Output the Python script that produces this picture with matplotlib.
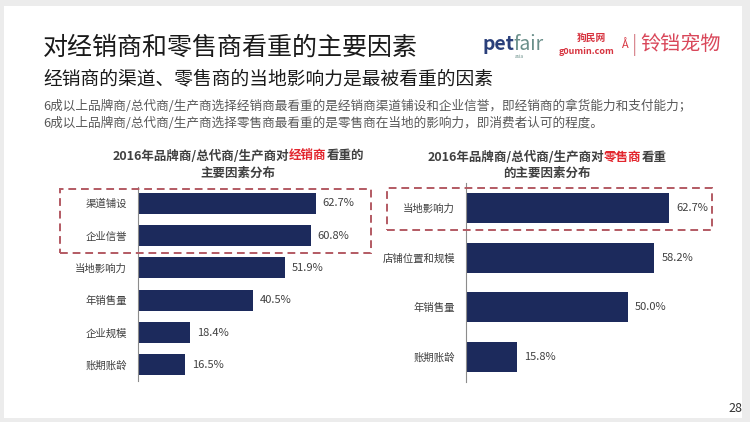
import matplotlib
matplotlib.use('Agg')
import matplotlib.pyplot as plt
from matplotlib.patches import Rectangle

plt.rcParams['font.family'] = ['Noto Sans CJK SC', 'DejaVu Sans']

# data
dist_labels = ['渠道铺设', '企业信誉', '当地影响力', '年销售量', '企业规模', '账期账龄']
dist_values = [62.7, 60.8, 51.9, 40.5, 18.4, 16.5]
retail_labels = ['当地影响力', '店铺位置和规模', '年销售量', '账期账龄']
retail_values = [62.7, 58.2, 50.0, 15.8]

title = '对经销商和零售商看重的主要因素'
subtitle = '经销商的渠道、零售商的当地影响力是最被看重的因素'
notes = ['6成以上品牌商/总代商/生产商选择经销商最看重的是经销商渠道铺设和企业信誉，即经销商的拿货能力和支付能力；',
         '6成以上品牌商/总代商/生产商选择零售商最看重的是零售商在当地的影响力，即消费者认可的程度。']

W, H = 750, 422
NAVY = '#1c2a5c'
RED = '#e2262e'
BOX = '#b35a63'
DARK = '#404040'

fig = plt.figure(figsize=(7.5, 4.22), dpi=100, facecolor='#ececec')
R = fig.canvas.get_renderer()


def px(x, y, w, h):
    # pixel box, origin top-left -> figure fraction rect
    return [x / W, 1 - (y + h) / H, w / W, h / H]


def rect(x, y, w, h, **kw):
    r = Rectangle((x / W, 1 - (y + h) / H), w / W, h / H, transform=fig.transFigure, **kw)
    fig.add_artist(r)


def text(x, y, s, **kw):
    return fig.text(x / W, 1 - y / H, s, va='center', **kw)


def width_of(s, **kw):
    t = text(0, 0, s, **kw)
    w = t.get_window_extent(R).width
    t.remove()
    return w


def highlight_line(pre, red, post, cx, y, **kw):
    # three pieces, each lined up with where it sits in the whole line
    full = pre + red + post
    wf = width_of(full, **kw)
    x0 = cx - wf / 2
    text(x0, y, pre, color=DARK, **kw)
    text(x0 + width_of(pre + red, **kw) - width_of(red, **kw), y, red, color=RED, **kw)
    text(x0 + wf - width_of(post, **kw), y, post, color=DARK, **kw)


# white slide
rect(4, 6, 738, 412, facecolor='white', edgecolor='none', zorder=0)


def bar_panel(box, labels, values, bar_h):
    ax = fig.add_axes(px(*box))
    pos = list(range(len(labels)))
    bars = ax.barh(pos, values, height=bar_h, color=NAVY)
    ax.set_xlim(0, 80)
    ax.set_ylim(len(labels) - 0.5, -0.5)
    ax.set_yticks(pos, labels)
    ax.tick_params(axis='y', length=0, pad=8, labelsize=7.5, labelcolor=DARK)
    ax.set_xticks([])
    for s in ['top', 'right', 'bottom']:
        ax.spines[s].set_visible(False)
    ax.spines['left'].set_color('#8c8c8c')
    ax.spines['left'].set_linewidth(0.8)
    ax.patch.set_alpha(0)
    for b, v in zip(bars, values):
        ax.annotate(f'{v:.1f}%', (v, b.get_y() + b.get_height() / 2), xytext=(5, 0),
                    textcoords='offset points', va='center', fontsize=8, color=DARK)
    return ax


bar_panel((138, 187, 227, 194), dist_labels, dist_values, 0.65)
bar_panel((466, 183, 259, 199), retail_labels, retail_values, 0.6)

# dashed highlight boxes
rect(60, 189, 311, 64, fill=False, edgecolor=BOX, linestyle=(0, (4, 2.5)), linewidth=1.4)
rect(387, 188, 325, 42, fill=False, edgecolor=BOX, linestyle=(0, (4, 2.5)), linewidth=1.4)

# headings
text(43, 48, title, fontsize=18, color='#1a1a1a')
text(43, 79, subtitle, fontsize=13.5, color='#1a1a1a')
text(43, 106, notes[0], fontsize=9.1, color='#595959')
text(43, 123, notes[1], fontsize=9.1, color='#595959')

# chart titles
ct = dict(fontsize=9, fontweight='bold')
highlight_line('2016年品牌商/总代商/生产商对', '经销商', '看重的', 238, 156, **ct)
text(238, 173, '主要因素分布', color=DARK, ha='center', **ct)
highlight_line('2016年品牌商/总代商/生产商对', '零售商', '看重', 547, 157, **ct)
text(547, 173, '的主要因素分布', color=DARK, ha='center', **ct)

# logos
text(482, 44, 'pet', fontsize=14, color='#2a3f7a', fontweight='bold')
text(513, 44, 'fair', fontsize=14, color='#6a8f8a', fontstyle='italic')
text(515, 56, 'asia', fontsize=3.5, color='#6a8f8a')
text(577, 38, '狗民网', fontsize=7, fontweight='bold', color='#d7333f')
text(559, 51, 'g0umin.com', fontsize=6.5, fontweight='bold', color='#d7333f')
text(622, 45, 'Å', fontsize=8, color='#d7333f')
text(632, 45, '|', fontsize=14, color='#d98a92')
text(640, 45, '铃铛宠物', fontsize=14.5, color='#d9475a')

text(728, 409, '28', fontsize=9, color='#333333')

fig.savefig('out.png', dpi=100, facecolor=fig.get_facecolor())
